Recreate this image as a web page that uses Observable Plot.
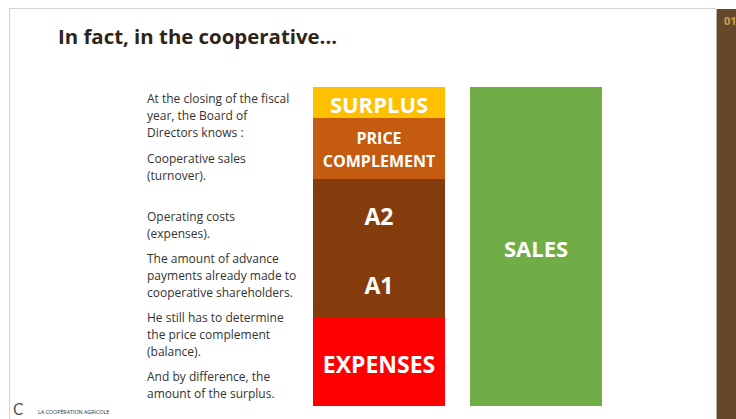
<!DOCTYPE html>
<html>
<head>
<meta charset="utf-8">
<script src="https://cdn.jsdelivr.net/npm/d3@7"></script>
<script src="https://cdn.jsdelivr.net/npm/@observablehq/plot@0.6"></script>
<style>
  html, body { margin: 0; padding: 0; background: #fff; }
  #page { position: relative; width: 736px; height: 419px; overflow: hidden; background: #fff; font-family: "Open Sans", sans-serif; }
  #chart { position: absolute; left: 0; top: 0; }
  .frame-top { position: absolute; left: 9px; top: 8px; width: 707px; height: 1px; background: #d2d2d2; }
  .frame-left { position: absolute; left: 9px; top: 8px; width: 1px; height: 411px; background: #d2d2d2; }
  .strip { position: absolute; left: 716px; top: 9px; width: 20px; height: 410px; background: #65472a; border-left: 1px solid #b9b2ab; box-sizing: border-box; }
  .pagenum { position: absolute; left: 724px; top: 13px; font-size: 11px; color: #c9a24a; font-weight: bold; }
  .title { position: absolute; left: 58px; top: 24px; font-size: 20.4px; line-height: 24px; font-weight: 700; color: #2e2418; white-space: nowrap; }
  .para { position: absolute; left: 147px; font-size: 12px; line-height: 17px; color: #333; white-space: pre; }
  .logo-c { position: absolute; left: 13px; top: 402px; font-size: 15px; line-height: 16px; color: #555; font-family: "DejaVu Sans", sans-serif; }
  .logo-t { position: absolute; left: 38px; top: 409px; font-size: 5.5px; line-height: 7px; color: #333; white-space: nowrap; letter-spacing: -0.1px; }
</style>
</head>
<body>
<div id="page">
  <div class="frame-top"></div>
  <div class="frame-left"></div>
  <div class="strip"></div>
  <div class="pagenum">01</div>
  <div id="chart"></div>
  <div class="title" id="title"></div>
  <div id="paras"></div>
  <div class="logo-c">C</div>
  <div class="logo-t">LA COOPÉRATION AGRICOLE</div>
</div>
<script>
// ---- data ----
const titleText = "In fact, in the cooperative...";
const paragraphs = [
  "At the closing of the fiscal\nyear, the Board of\nDirectors knows :",
  "Cooperative sales\n(turnover).",
  "Operating costs\n(expenses).",
  "The amount of advance\npayments already made to\ncooperative shareholders.",
  "He still has to determine\nthe price complement\n(balance).",
  "And by difference, the\namount of the surplus."
];
const bars = ["cooperative", "sales"];
const coopSegments = ["EXPENSES", "A1", "A2", "PRICE\nCOMPLEMENT", "SURPLUS"];
const coopValues = [27.4, 21.9, 21.9, 19.2, 9.6];
const salesSegments = ["SALES"];
const salesValues = [100];

// ---- styles (kept out of data) ----
const segmentColors = ["#ff0000", "#843c0c", "#843c0c", "#c55a11", "#ffc000", "#70ad47"];
const labelSize = {"EXPENSES": 23, "A1": 23, "A2": 23, "PRICE\nCOMPLEMENT": 16, "SURPLUS": 22, "SALES": 22};
const paraTops = [90, 150, 208, 250, 309, 368];

document.getElementById("title").textContent = titleText;
const pw = document.getElementById("paras");
paragraphs.forEach((t, i) => {
  const d = document.createElement("div");
  d.className = "para";
  d.style.top = paraTops[i] + "px";
  d.textContent = t;
  pw.appendChild(d);
});

const rows = [
  ...coopSegments.map((k, i) => ({bar: bars[0], key: k, value: coopValues[i]})),
  ...salesSegments.map((k, i) => ({bar: bars[1], key: k, value: salesValues[i]}))
];

const chart = Plot.plot({
  width: 736,
  height: 419,
  marginLeft: 313,
  marginRight: 135,
  marginTop: 87,
  marginBottom: 14,
  style: {background: "transparent", fontFamily: "Open Sans, sans-serif"},
  x: {type: "band", domain: bars, paddingInner: 0.166, paddingOuter: 0, axis: null},
  y: {domain: [0, 100], axis: null},
  color: {domain: [...coopSegments, ...salesSegments], range: segmentColors, legend: false},
  marks: [
    Plot.barY(rows, Plot.stackY({x: "bar", y: "value", fill: "key", stroke: "key", strokeWidth: 1, shapeRendering: "crispEdges", order: null, insetLeft: 0, insetRight: 0})),
    Plot.text(rows, Plot.stackY({
      x: "bar", y: "value", text: "key", order: null,
      fill: "white", fontWeight: "bold",
      fontSize: d => labelSize[d.key],
      lineHeight: 1.44
    }))
  ]
});
document.getElementById("chart").appendChild(chart);
</script>
</body>
</html>
